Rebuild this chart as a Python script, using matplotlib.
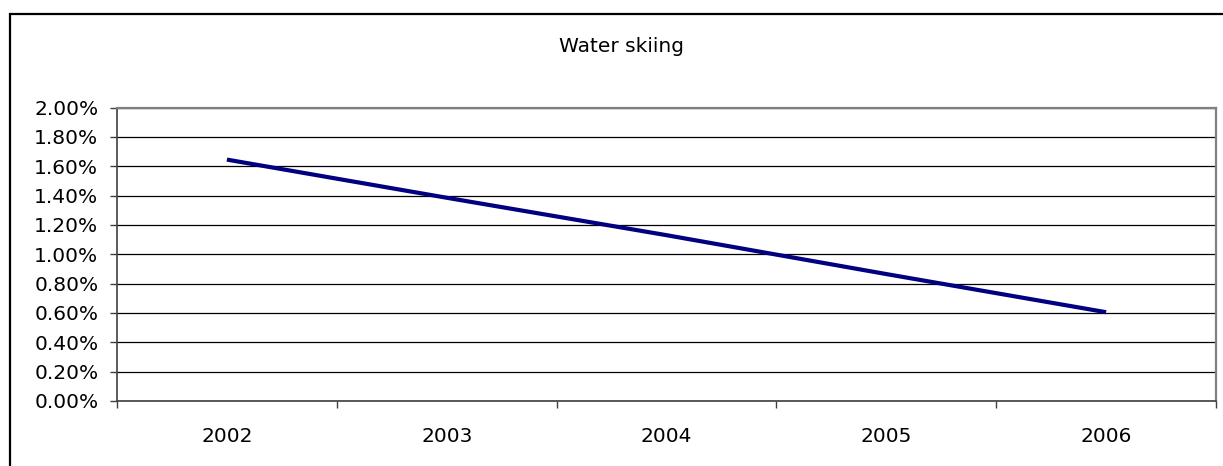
import matplotlib
matplotlib.use("Agg")
import matplotlib.pyplot as plt
from matplotlib.patches import Rectangle
from matplotlib.ticker import FuncFormatter, FixedLocator, MultipleLocator

years = ["2002", "2003", "2004", "2005", "2006"]
values = [1.645, 1.385, 1.13, 0.865, 0.605]  # percent
title = "Water skiing"

W, H = 1223, 466
fig = plt.figure(figsize=(W / 100, H / 100), dpi=100)
fig.patch.set_facecolor("white")

# outer chart border (extends beyond the cropped image on right/bottom)
fig.add_artist(Rectangle((10.5 / W, -0.2), 2.0, 1 - 13.5 / H + 0.2,
                         transform=fig.transFigure, fill=False,
                         edgecolor="black", linewidth=1.6, zorder=0))

ax = fig.add_axes([117 / W, 1 - 401 / H, (1216 - 117) / W, (401 - 107.5) / H])
x = [i + 0.5 for i in range(len(years))]
ax.plot(x, values, color="#000080", linewidth=3.0, solid_capstyle="butt", zorder=3)

ax.set_xlim(0, len(years))
ax.set_ylim(0, 2.0)
ax.yaxis.set_major_locator(MultipleLocator(0.2))
ax.yaxis.set_major_formatter(FuncFormatter(lambda v, p: f"{v:.2f}%"))
ax.grid(axis="y", color="black", linewidth=0.9, zorder=1)
ax.set_axisbelow(True)

ax.xaxis.set_major_locator(FixedLocator(range(len(years) + 1)))
ax.xaxis.set_minor_locator(FixedLocator(x))
ax.set_xticklabels([""] * (len(years) + 1))
ax.set_xticklabels(years, minor=True)
ax.tick_params(axis="x", which="major", length=5, width=1, color="#404040", direction="out")
ax.tick_params(axis="x", which="minor", length=0, pad=18.5, labelsize=14.5)
ax.tick_params(axis="y", length=5, width=1, color="#404040", direction="out", pad=8.5, labelsize=14.5)

for side in ["top", "right"]:
    ax.spines[side].set_color("#808080")
    ax.spines[side].set_linewidth(1.6)
ax.spines["left"].set_color("#404040")
ax.spines["left"].set_linewidth(1.2)
ax.spines["bottom"].set_color("#404040")
ax.spines["bottom"].set_linewidth(1.2)

fig.text(621.5 / W, 1 - 52 / H, title, ha="center", va="baseline", fontsize=14.5)

fig.savefig("out.png", dpi=100)
